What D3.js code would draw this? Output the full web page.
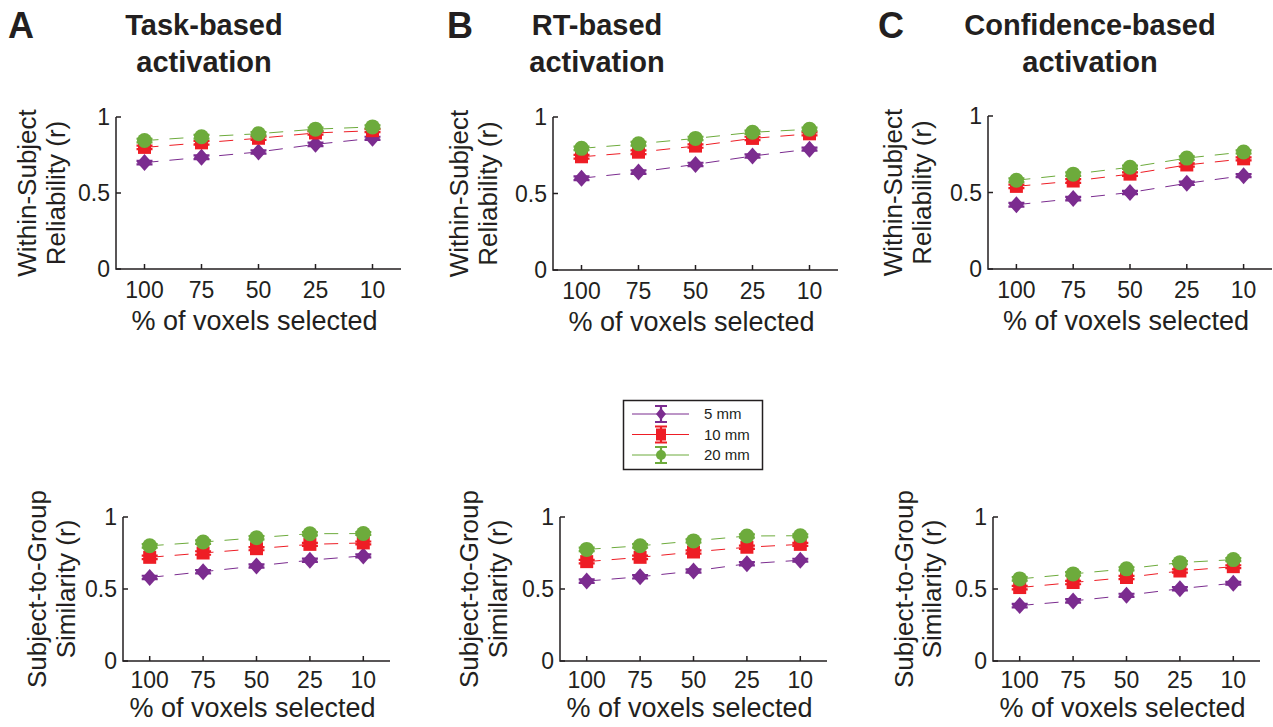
<!DOCTYPE html>
<head>
  <meta charset="utf-8">
  <title>Voxel selection</title>
  <script src="https://d3js.org/d3.v7.min.js"></script>
  <style>
    body { margin: 0; background: white; }
    text {
      font-family: Arial, "Liberation Sans", sans-serif;
      fill: #231f20;
    }
    .axis-line { stroke: #231f20; stroke-width: 1.5; fill: none; }
  </style>
</head>

<body>
  <script>
    // ---- data ----
    var xLabels = ["100", "75", "50", "25", "10"];
    var seriesNames = ["5 mm", "10 mm", "20 mm"];
    var seriesColors = ["#7b2c8f", "#ee1d25", "#6dab3c"];

    var taskWithin5  = [0.70, 0.735, 0.77, 0.82, 0.86];
    var taskWithin10 = [0.80, 0.83, 0.86, 0.895, 0.91];
    var taskWithin20 = [0.845, 0.87, 0.89, 0.92, 0.935];
    var rtWithin5    = [0.60, 0.64, 0.69, 0.745, 0.79];
    var rtWithin10   = [0.74, 0.77, 0.81, 0.86, 0.89];
    var rtWithin20   = [0.795, 0.825, 0.86, 0.90, 0.92];
    var confWithin5  = [0.42, 0.46, 0.50, 0.56, 0.61];
    var confWithin10 = [0.54, 0.575, 0.62, 0.68, 0.72];
    var confWithin20 = [0.58, 0.62, 0.665, 0.725, 0.765];

    var taskGroup5   = [0.58, 0.62, 0.66, 0.70, 0.73];
    var taskGroup10  = [0.72, 0.75, 0.78, 0.81, 0.82];
    var taskGroup20  = [0.80, 0.826, 0.856, 0.884, 0.885];
    var rtGroup5     = [0.555, 0.585, 0.625, 0.675, 0.70];
    var rtGroup10    = [0.69, 0.72, 0.757, 0.79, 0.81];
    var rtGroup20    = [0.775, 0.80, 0.834, 0.868, 0.87];
    var confGroup5   = [0.385, 0.417, 0.456, 0.502, 0.54];
    var confGroup10  = [0.51, 0.545, 0.58, 0.625, 0.655];
    var confGroup20  = [0.57, 0.605, 0.64, 0.683, 0.704];

    // standard errors (tiny, mostly hidden under the markers)
    var errSmall = [0.012, 0.012, 0.011, 0.011, 0.010];

    var yTicks = [0, 0.5, 1];
    var yTickLabels = ["0", "0.5", "1"];

    var titles = [["Task-based", "activation"], ["RT-based", "activation"], ["Confidence-based", "activation"]];
    var letters = ["A", "B", "C"];
    var withinLabel = ["Within-Subject", "Reliability (r)"];
    var groupLabel = ["Subject-to-Group", "Similarity (r)"];
    var xTitle = "% of voxels selected";

    // ---- layout ----
    var width = 1273, height = 727;
    var svg = d3.select("body").append("svg")
      .attr("width", width)
      .attr("height", height);

    var panels = [
      { x0: 116, x1: 401, y0: 269, y1: 117, lab: [27, 56], xt: 298, xl: 330, yl: withinLabel,
        data: [taskWithin5, taskWithin10, taskWithin20] },
      { x0: 553, x1: 838, y0: 270, y1: 117, lab: [459, 488], xt: 299, xl: 331, yl: withinLabel,
        data: [rtWithin5, rtWithin10, rtWithin20] },
      { x0: 988, x1: 1272, y0: 269, y1: 116, lab: [893, 922], xt: 298, xl: 330, yl: withinLabel,
        data: [confWithin5, confWithin10, confWithin20] },
      { x0: 123, x1: 390, y0: 661, y1: 517, lab: [37, 66], xt: 688, xl: 717, yl: groupLabel,
        data: [taskGroup5, taskGroup10, taskGroup20] },
      { x0: 560, x1: 827, y0: 661, y1: 517, lab: [469, 498], xt: 688, xl: 717, yl: groupLabel,
        data: [rtGroup5, rtGroup10, rtGroup20] },
      { x0: 993, x1: 1260, y0: 661, y1: 517, lab: [904, 932], xt: 688, xl: 717, yl: groupLabel,
        data: [confGroup5, confGroup10, confGroup20] }
    ];

    var titleX = [204, 597, 1090];
    var letterX = [8, 447, 878];

    // marker shapes: diamond, square, circle
    function markerPath(k) {
      if (k === 0) return "M0,-8.5L7.5,0L0,8.5L-7.5,0Z";
      if (k === 1) return "M-6.5,-6.5H6.5V6.5H-6.5Z";
      return d3.arc()({ innerRadius: 0, outerRadius: 7.5, startAngle: 0, endAngle: 2 * Math.PI });
    }

    // titles and panel letters
    titles.forEach(function (t, i) {
      svg.append("text")
        .attr("x", letterX[i]).attr("y", 38)
        .attr("font-size", "36px").attr("font-weight", "bold")
        .text(letters[i]);
      t.forEach(function (line, j) {
        svg.append("text")
          .attr("x", titleX[i]).attr("y", 35 + j * 37)
          .attr("text-anchor", "middle")
          .attr("font-size", "29px").attr("font-weight", "bold")
          .text(line);
      });
    });

    panels.forEach(function (p) {
      var x = d3.scalePoint()
        .domain(xLabels)
        .range([p.x0, p.x1])
        .padding(0.5);
      var y = d3.scaleLinear()
        .domain([0, 1])
        .range([p.y0, p.y1]);

      var g = svg.append("g");

      // axes (left + bottom, ticks pointing inward)
      g.append("path").attr("class", "axis-line")
        .attr("d", "M" + p.x0 + "," + y(1) + "V" + p.y0 + "H" + p.x1);
      yTicks.forEach(function (v, i) {
        g.append("line").attr("class", "axis-line")
          .attr("x1", p.x0).attr("x2", p.x0 + 5)
          .attr("y1", y(v)).attr("y2", y(v));
        g.append("text")
          .attr("x", p.x0 - 6).attr("y", y(v))
          .attr("dy", "0.36em")
          .attr("text-anchor", "end")
          .attr("font-size", "23px")
          .text(yTickLabels[i]);
      });
      xLabels.forEach(function (d) {
        g.append("line").attr("class", "axis-line")
          .attr("x1", x(d)).attr("x2", x(d))
          .attr("y1", p.y0).attr("y2", p.y0 - 5);
        g.append("text")
          .attr("x", x(d)).attr("y", p.xt)
          .attr("text-anchor", "middle")
          .attr("font-size", "23px")
          .text(d);
      });
      g.append("text")
        .attr("x", (p.x0 + p.x1) / 2 - 4).attr("y", p.xl)
        .attr("text-anchor", "middle")
        .attr("font-size", "27px")
        .text(xTitle);

      // two-line rotated y label
      p.yl.forEach(function (line, j) {
        g.append("text")
          .attr("transform", "translate(" + p.lab[j] + "," + ((p.y0 + p.y1) / 2) + ") rotate(-90)")
          .attr("text-anchor", "middle")
          .attr("dominant-baseline", "central")
          .attr("font-size", "26px")
          .text(line);
      });

      // series
      var line = d3.line()
        .x(function (d, i) { return x(xLabels[i]); })
        .y(function (d) { return y(d); });

      p.data.forEach(function (vals, k) {
        var c = seriesColors[k];
        g.append("path")
          .attr("d", line(vals))
          .attr("fill", "none")
          .attr("stroke", c)
          .attr("stroke-width", 1)
          .attr("stroke-dasharray", "14,11");

        var pts = g.selectAll(null)
          .data(vals)
          .enter().append("g")
            .attr("transform", function (d, i) {
              return "translate(" + x(xLabels[i]) + "," + y(d) + ")";
            });

        pts.append("path")
          .attr("d", function (d, i) {
            var e = y(d - errSmall[i]) - y(d);
            return "M0," + (-e) + "V" + e + "M-8," + (-e) + "H8M-8," + e + "H8";
          })
          .attr("stroke", c)
          .attr("stroke-width", 2.2)
          .attr("fill", "none");

        pts.append("path")
          .attr("d", markerPath(k))
          .attr("fill", c);
      });
    });

    // legend
    var legend = svg.append("g");
    legend.append("rect")
      .attr("x", 623.5).attr("y", 400.5)
      .attr("width", 139).attr("height", 69)
      .attr("fill", "white")
      .attr("stroke", "#231f20")
      .attr("stroke-width", 1.5);

    var legendY = d3.scalePoint()
      .domain(seriesNames)
      .range([414, 455]);

    seriesNames.forEach(function (name, k) {
      var c = seriesColors[k];
      var ly = legendY(name);
      legend.append("line")
        .attr("x1", 632).attr("x2", 689)
        .attr("y1", ly).attr("y2", ly)
        .attr("stroke", c).attr("stroke-width", 1);
      var m = legend.append("g").attr("transform", "translate(661," + ly + ")");
      m.append("path")
        .attr("d", "M0,-8V8M-6,-8H6M-6,8H6")
        .attr("stroke", c).attr("stroke-width", 2.2).attr("fill", "none");
      m.append("path")
        .attr("d", k === 0 ? "M0,-6L5,0L0,6L-5,0Z" :
                   k === 1 ? "M-5,-6H5V6H-5Z" :
                   d3.arc()({ innerRadius: 0, outerRadius: 5, startAngle: 0, endAngle: 2 * Math.PI }))
        .attr("fill", c);
      legend.append("text")
        .attr("x", 704).attr("y", ly)
        .attr("dy", "0.36em")
        .attr("font-size", "15px")
        .text(name);
    });
  </script>
</body>
